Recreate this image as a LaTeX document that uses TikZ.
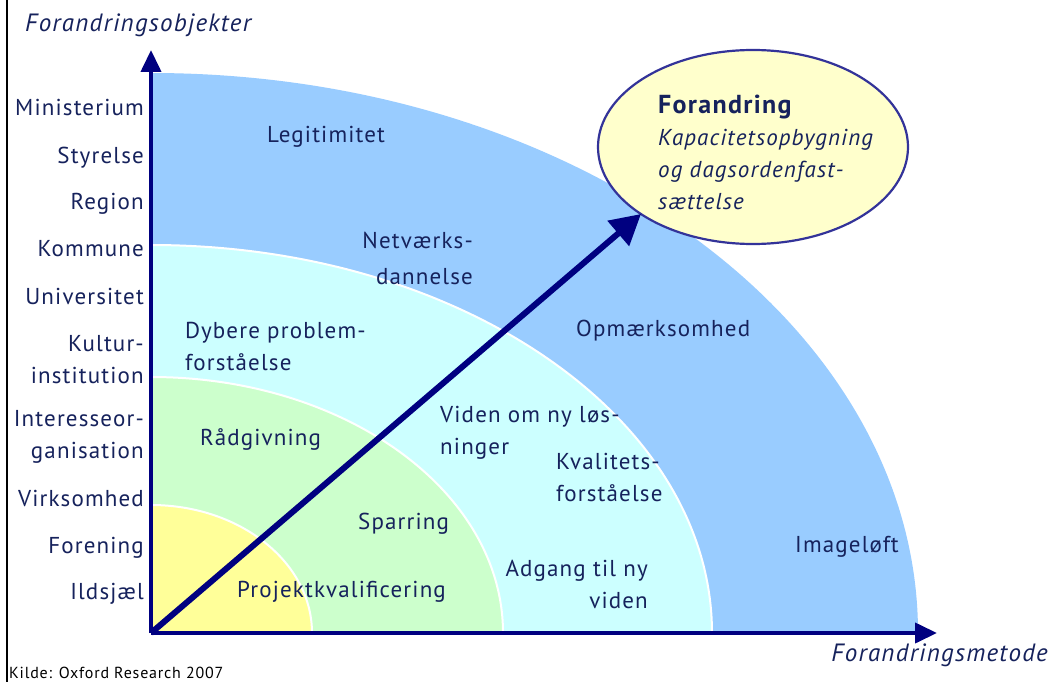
\documentclass[tikz,border=0pt]{standalone}
\usepackage{fontspec}
\setmainfont{PT Sans}[LetterSpace=5]
\usetikzlibrary{arrows.meta,shapes.geometric}
\definecolor{zoneblue}{HTML}{99CCFF}
\definecolor{zonecyan}{HTML}{CCFFFF}
\definecolor{zonegreen}{HTML}{CCFFCC}
\definecolor{zoneyellow}{HTML}{FFFF99}
\definecolor{axisnavy}{HTML}{000080}
\definecolor{goalfill}{HTML}{FFFFCC}
\definecolor{goalline}{HTML}{333399}
\definecolor{txt}{RGB}{22,34,92}
\tikzset{
  lbl/.style={font=\fontsize{23}{32}\selectfont, text=txt, inner sep=0pt},
  axtitle/.style={font=\fontsize{25}{30}\selectfont\itshape, text=txt, inner sep=0pt},
  zone/.style={draw=white, line width=2pt},
  axisline/.style={draw=axisnavy, line width=4pt, -{Triangle[length=22pt,width=20pt]}},
  goalarrow/.style={draw=axisnavy, line width=6pt, -{Triangle[length=30pt,width=32pt]}},
  goal/.style={ellipse, draw=goalline, fill=goalfill, line width=2.2pt,
    minimum width=310pt, minimum height=194pt, inner sep=0pt},
}
\begin{document}
\begin{tikzpicture}[x=1pt,y=-1pt]
\useasboundingbox (0,0) rectangle (1060,682);
\fill[white] (0,0) rectangle (1060,682);

% left frame line
\draw[line width=2pt,black] (7,0) -- (7,682);

\coordinate (O) at (151,633);
\coordinate (ytip) at (151,50);
\coordinate (xtip) at (937,633);
\coordinate (tip) at (641,214);

% nested quarter zones
\begin{scope}
  \clip (151,633) rectangle (1060,0);
  \fill[zoneblue] (O) ellipse [x radius=767pt, y radius=560pt];
  \filldraw[zone, fill=zonecyan] (O) ellipse [x radius=561pt, y radius=388pt];
  \filldraw[zone, fill=zonegreen] (O) ellipse [x radius=352pt, y radius=256pt];
  \filldraw[zone, fill=zoneyellow] (O) ellipse [x radius=161pt, y radius=128pt];
\end{scope}

% axes
\draw[axisline] (O) -- (ytip);
\draw[axisline] (O) -- (xtip);

% axis titles
\node[axtitle, anchor=mid west] (ytitle) at (25,29) {Forandringsobjekter};
\node[axtitle, anchor=mid east] (xtitle) at (1048,659) {Forandringsmetode};

% change objects along the vertical axis
\node[lbl, anchor=mid east] (o1) at (144,113) {Ministerium};
\node[lbl, anchor=mid east] (o2) at (144,161) {Styrelse};
\node[lbl, anchor=mid east] (o3) at (144,207) {Region};
\node[lbl, anchor=mid east] (o4) at (144,254) {Kommune};
\node[lbl, anchor=mid east] (o5) at (144,302) {Universitet};
\node[lbl, anchor=east, align=right] (o6) at (144,360) {Kultur-\\institution};
\node[lbl, anchor=east, align=right] (o7) at (144,437) {Interesseor-\\ganisation};
\node[lbl, anchor=mid east] (o8) at (144,504) {Virksomhed};
\node[lbl, anchor=mid east] (o9) at (144,551) {Forening};
\node[lbl, anchor=mid east] (o10) at (144,597) {Ildsjæl};

% zone contents
\node[lbl, anchor=mid west] (z1) at (267,140) {Legitimitet};
\node[lbl, anchor=east, align=right, font=\fontsize{23}{36}\selectfont] (z2) at (473,258) {Netværks-\\dannelse};
\node[lbl, anchor=west, align=left] (z3) at (185,346) {Dybere problem-\\forståelse};
\node[lbl, anchor=mid west] (z4) at (576,334) {Opmærksomhed};
\node[lbl, anchor=mid west] (z5) at (200,443) {Rådgivning};
\node[lbl, anchor=west, align=left] (z6) at (440,433) {Viden om ny løs-\\ninger};
\node[lbl, anchor=west, align=left] (z7) at (556,477) {Kvalitets-\\forståelse};
\node[lbl, anchor=mid west] (z8) at (358,527) {Sparring};
\node[lbl, anchor=mid west] (z9) at (795,550) {Imageløft};
\node[lbl, anchor=east, align=right] (z10) at (648,584) {Adgang til ny\\viden};
\node[lbl, anchor=mid west] (z11) at (237,595) {Projektkvalificering};

% goal bubble
\node[goal] (goal) at (753,147) {};
\node[lbl, anchor=west, align=left, font=\fontsize{23}{32}\selectfont] (goaltext) at (658,152)
  {{\fontsize{26}{32}\selectfont\bfseries Forandring}\\
   \textit{Kapacitetsopbygning}\\
   \textit{og dagsordenfast-}\\
   \textit{sættelse}};

% direction of change
\draw[goalarrow] (O) -- (tip);

% source note
\node[anchor=mid west, inner sep=0pt, font=\fontsize{16}{18}\selectfont, text=black] (src) at (9,676) {Kilde: Oxford Research 2007};
\end{tikzpicture}
\end{document}
